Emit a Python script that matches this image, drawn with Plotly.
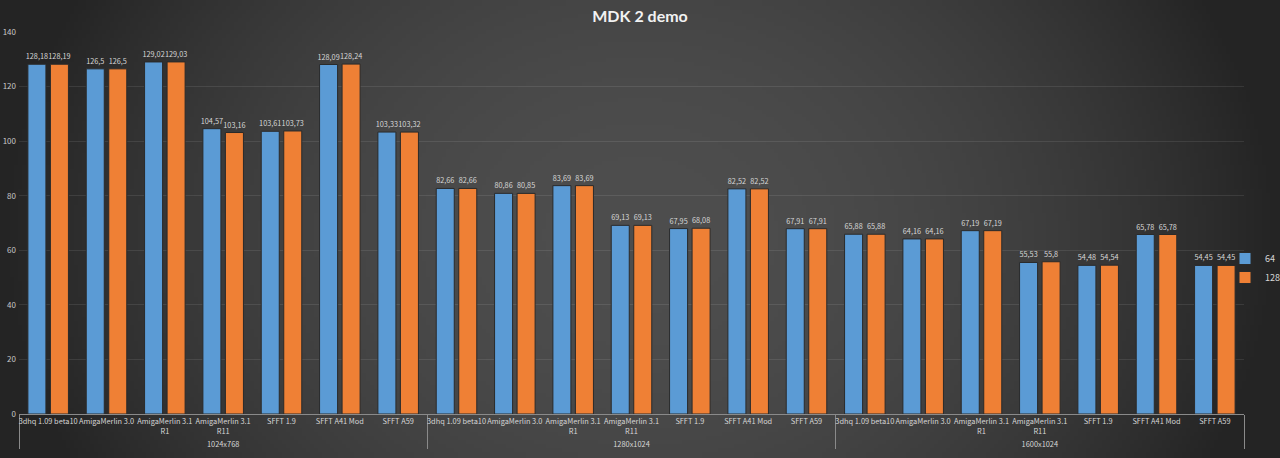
import base64, struct, zlib
import numpy as np
import plotly.graph_objects as go

# ---- data ----
groups = ["1024x768", "1280x1024", "1600x1024"]
drivers = ["3dhq 1.09 beta10", "AmigaMerlin 3.0", "AmigaMerlin 3.1<br>R1",
           "AmigaMerlin 3.1<br>R11", "SFFT 1.9", "SFFT A41 Mod", "SFFT A59"]
series_names = ["64", "128"]
vals_64 = [128.18, 126.5, 129.02, 104.57, 103.61, 128.09, 103.33,
           82.66, 80.86, 83.69, 69.13, 67.95, 82.52, 67.91,
           65.88, 64.16, 67.19, 55.53, 54.48, 65.78, 54.45]
vals_128 = [128.19, 126.5, 129.03, 103.16, 103.73, 128.24, 103.32,
            82.66, 80.85, 83.69, 69.13, 68.08, 82.52, 67.91,
            65.88, 64.16, 67.19, 55.8, 54.54, 65.78, 54.45]
y_ticks = [0, 20, 40, 60, 80, 100, 120, 140]

W, H = 1280, 458
ML, MR, MT, MB = 19, 36, 32, 44
NARROW = "Noto Sans CJK JP, Lato"

# ---- radial background gradient as PNG ----
def gradient_png(w, h):
    xs = (np.arange(w) + 0.5) / w * W
    ys = (np.arange(h) + 0.5) / h * H
    X, Y = np.meshgrid(xs, ys)
    r2 = ((X - 640) / 640) ** 2 + ((Y - 235) / 520) ** 2
    c = 78 - 42 * np.clip(r2, 0, 1)
    img = np.clip(c, 0, 255).astype(np.uint8)
    raw = b"".join(b"\x00" + img[i].tobytes() for i in range(h))
    def chunk(t, d):
        return struct.pack(">I", len(d)) + t + d + struct.pack(">I", zlib.crc32(t + d) & 0xffffffff)
    png = b"\x89PNG\r\n\x1a\n" + chunk(b"IHDR", struct.pack(">IIBBBBB", w, h, 8, 0, 0, 0, 0)) \
        + chunk(b"IDAT", zlib.compress(raw, 9)) + chunk(b"IEND", b"")
    return "data:image/png;base64," + base64.b64encode(png).decode()

x_cat = [[g for g in groups for _ in drivers], [d for _ in groups for d in drivers]]

def fmt(v):
    return str(v).replace(".", ",")

fig = go.Figure()
colors = ["#5b9bd5", "#ef8035"]
for name, vals, col in zip(series_names, [vals_64, vals_128], colors):
    fig.add_trace(go.Bar(
        x=x_cat, y=vals, name=name,
        marker=dict(color=col, line=dict(color="#2a2a2a", width=1)),
        text=[fmt(v) for v in vals], textposition="outside",
        textfont=dict(size=7.3, color="#d6d6d6", family=NARROW),
        constraintext="none", cliponaxis=False,
    ))

pw = W - ML - MR
ph = H - MT - MB
fig.add_layout_image(dict(
    source=gradient_png(320, 115), xref="paper", yref="paper",
    x=-ML / pw, y=1 + MT / ph, sizex=W / pw, sizey=H / ph,
    xanchor="left", yanchor="top", sizing="stretch", layer="below",
))

fig.update_layout(
    width=W, height=H,
    margin=dict(l=ML, r=MR, t=MT, b=MB, autoexpand=False),
    paper_bgcolor="#2e2e2e", plot_bgcolor="rgba(0,0,0,0)",
    barmode="group", bargap=0.228, bargroupgap=0.2,
    font=dict(family=NARROW, color="#d6d6d6"),
    title=dict(text="<b>MDK 2 demo</b>", x=0.5, xanchor="center", y=1 - 16 / H,
               yanchor="middle", yref="container",
               font=dict(size=16, color="#f2f2f2", family="Lato")),
    legend=dict(x=(1225 - ML) / pw, xanchor="left",
                y=(H - MB - 268) / ph, yanchor="middle",
                font=dict(size=9, color="#d6d6d6"), bgcolor="rgba(0,0,0,0)",
                itemwidth=30, tracegroupgap=0),
    showlegend=True,
)
fig.update_xaxes(
    type="multicategory", showgrid=False, showline=True, linecolor="#8a8a8a", linewidth=1,
    ticks="", tickangle=0, tickfont=dict(size=7.4, color="#d6d6d6", family=NARROW),
    showdividers=True, dividercolor="#8a8a8a", dividerwidth=1, automargin=False,
)
fig.update_yaxes(
    range=[0, 140], tickvals=y_ticks, showgrid=True, gridcolor="rgba(255,255,255,0.09)",
    gridwidth=1, zeroline=False, showline=False, tickfont=dict(size=8, color="#c8c8c8"),
    ticklabelstandoff=2, automargin=False,
)
fig.write_html("out.html", config={"displayModeBar": False}, post_script=(
    "document.body.style.margin='0';document.body.style.overflow='hidden';"))
